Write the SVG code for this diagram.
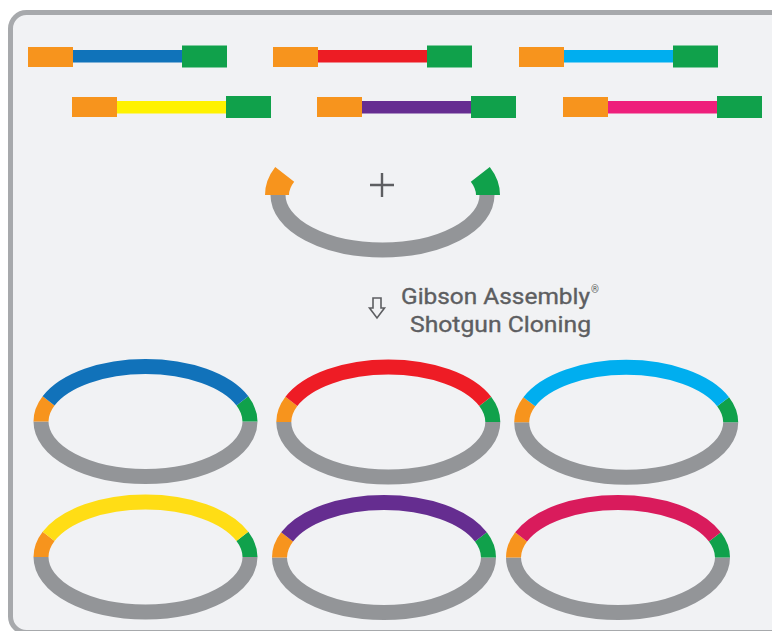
<svg xmlns="http://www.w3.org/2000/svg" xmlns:xlink="http://www.w3.org/1999/xlink" width="772" height="631" viewBox="0 0 772 631">
<style>
.frame{fill:#f1f2f4;stroke:#a7a9ac;stroke-width:5}
.or{fill:#f7941d}
.gr{fill:#10a14b}
.ring{fill:none;stroke-width:15}
.g{stroke:#939598}
.o{stroke:#f7941d}
.n{stroke:#10a14b}
.lbl{font-family:Roboto,"Liberation Sans",sans-serif;font-size:22px;fill:#5d5e61;stroke:#5d5e61;stroke-width:0.35}
.sym{fill:none;stroke:#5d5e61;stroke-width:1.6}
</style>
<defs>
<g id="ringbase">
<path class="ring g" d="M-104.5,0 A104.5,55 0 0 0 104.5,0"/>
<path class="ring o" d="M-104.5,0 A104.5,55 0 0 1 -96.89,-20.6"/>
<path class="ring n" d="M96.89,-20.6 A104.5,55 0 0 1 104.5,0"/>
</g>
<path id="top" d="M-96.89,-20.6 A104.5,55 0 0 1 96.89,-20.6"/>
</defs>
<rect width="772" height="631" fill="#ffffff"/>
<rect class="frame" x="10.5" y="12.5" width="800" height="620" rx="16"/>

<g id="frag-blue">
<rect x="72" y="50" width="111" height="12.5" fill="#1073ba"/>
<rect class="or" x="28" y="47" width="45" height="20"/>
<rect class="gr" x="182" y="45.5" width="45" height="22"/>
</g>
<g id="frag-red">
<rect x="317" y="50" width="111" height="12.5" fill="#ed1c24"/>
<rect class="or" x="273" y="47" width="45" height="20"/>
<rect class="gr" x="427" y="45.5" width="45" height="22"/>
</g>
<g id="frag-cyan">
<rect x="563" y="50" width="111" height="12.5" fill="#00aeef"/>
<rect class="or" x="519" y="47" width="45" height="20"/>
<rect class="gr" x="673" y="45.5" width="45" height="22"/>
</g>
<g id="frag-yellow">
<rect x="116" y="101" width="111" height="12.5" fill="#fff200"/>
<rect class="or" x="72" y="97" width="45" height="20"/>
<rect class="gr" x="226" y="96" width="45" height="22"/>
</g>
<g id="frag-purple">
<rect x="361" y="101" width="111" height="12.5" fill="#662d91"/>
<rect class="or" x="317" y="97" width="45" height="20"/>
<rect class="gr" x="471" y="96" width="45" height="22"/>
</g>
<g id="frag-pink">
<rect x="607" y="101" width="111" height="12.5" fill="#ee1f7b"/>
<rect class="or" x="563" y="97" width="45" height="20"/>
<rect class="gr" x="717" y="96" width="45" height="22"/>
</g>

<g id="vector" transform="translate(382.5,195)">
<path class="ring g" d="M-104.5,0 A104.5,55 0 0 0 104.5,0"/>
<path fill="none" stroke="#f7941d" stroke-width="24" d="M-105.5,0 A105.5,55 0 0 1 -97.8,-20.6"/>
<path fill="none" stroke="#10a14b" stroke-width="24" d="M97.8,-20.6 A105.5,55 0 0 1 105.5,0"/>
</g>
<g id="plus">
<path d="M370,185 H394 M382,173 V197" stroke="#5d5e61" stroke-width="2.4" fill="none"/>
</g>

<g id="step">
<path class="sym" d="M373,298 H381 V308 H384.5 L377,318 L369.5,308 H373 Z"/>
<text class="lbl" x="401" y="303.5" textLength="189" lengthAdjust="spacingAndGlyphs">Gibson Assembly</text>
<text class="lbl" x="591" y="293" style="font-size:10px;stroke-width:0">®</text>
<text class="lbl" x="410" y="332" textLength="181" lengthAdjust="spacingAndGlyphs">Shotgun Cloning</text>
</g>

<g id="plasmid-blue" transform="translate(145.5,421.5)">
<use xlink:href="#ringbase"/>
<use xlink:href="#top" class="ring" stroke="#1172ba"/>
</g>
<g id="plasmid-red" transform="translate(388.3,422)">
<use xlink:href="#ringbase"/>
<use xlink:href="#top" class="ring" stroke="#ee1c25"/>
</g>
<g id="plasmid-cyan" transform="translate(626.2,422.3)">
<use xlink:href="#ringbase"/>
<use xlink:href="#top" class="ring" stroke="#00aeef"/>
</g>
<g id="plasmid-yellow" transform="translate(145.5,557)">
<use xlink:href="#ringbase"/>
<use xlink:href="#top" class="ring" stroke="#ffdd15"/>
</g>
<g id="plasmid-purple" transform="translate(384,557.5)">
<use xlink:href="#ringbase"/>
<use xlink:href="#top" class="ring" stroke="#652d90"/>
</g>
<g id="plasmid-pink" transform="translate(618,557.5)">
<use xlink:href="#ringbase"/>
<use xlink:href="#top" class="ring" stroke="#d91b5c"/>
</g>
</svg>
